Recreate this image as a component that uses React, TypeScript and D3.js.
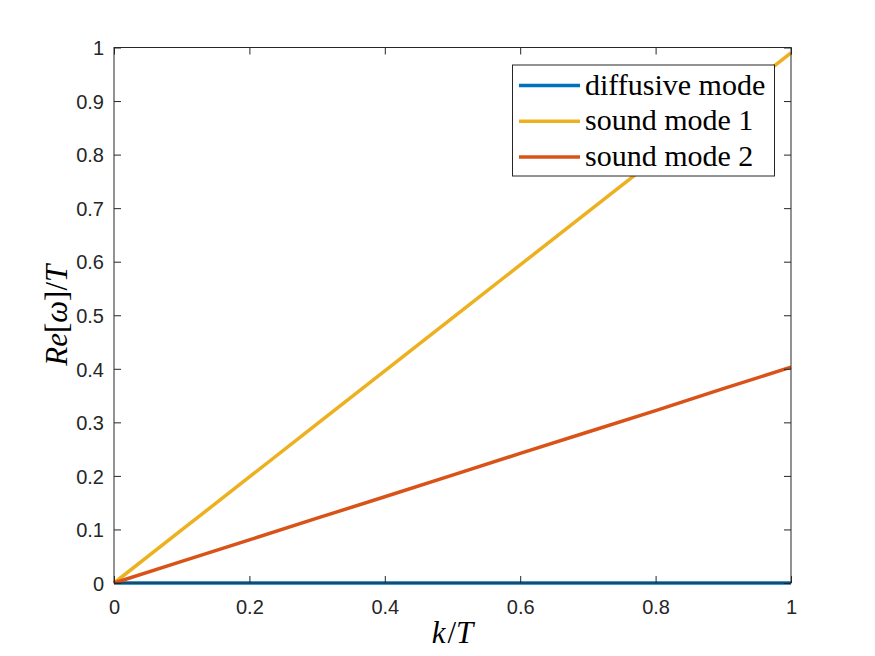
import { useEffect, useRef } from 'react'
import * as d3 from 'd3'

const kValues = [0, 0.1, 0.2, 0.3, 0.4, 0.5, 0.6, 0.7, 0.8, 0.9, 1]
const diffusiveMode = [0, 0, 0, 0, 0, 0, 0, 0, 0, 0, 0]
const soundMode1 = [0, 0.099, 0.198, 0.297, 0.396, 0.495, 0.594, 0.693, 0.792, 0.891, 0.99]
const soundMode2 = [0, 0.0403, 0.0806, 0.121, 0.161, 0.2015, 0.242, 0.282, 0.322, 0.363, 0.403]

const seriesNames = ['diffusive mode', 'sound mode 1', 'sound mode 2']
const seriesColors = ['#0072BD', '#EDB120', '#D95319']
const xTicks = [0, 0.2, 0.4, 0.6, 0.8, 1]
const yTicks = [0, 0.1, 0.2, 0.3, 0.4, 0.5, 0.6, 0.7, 0.8, 0.9, 1]

const tickFont = '"Liberation Sans", Arial, Helvetica, sans-serif'
const texFont = '"Liberation Serif", "Times New Roman", serif'

export default function App() {
  const svgRef = useRef<SVGSVGElement>(null)

  useEffect(() => {
    if (!svgRef.current) return
    const svg = d3.select(svgRef.current)
    svg.selectAll('*').remove()

    const width = 875
    const height = 656
    const margin = { top: 47.5, right: 84, bottom: 73, left: 114 }
    const innerW = width - margin.left - margin.right
    const innerH = height - margin.top - margin.bottom
    const ink = '#262626'
    const tickLen = 7

    svg.attr('width', width).attr('height', height)
    svg.append('rect').attr('width', width).attr('height', height).attr('fill', '#fff')

    const x = d3.scaleLinear().domain([0, 1]).range([0, innerW])
    const y = d3.scaleLinear().domain([0, 1]).range([innerH, 0])

    const g = svg.append('g').attr('transform', `translate(${margin.left},${margin.top})`)

    // 시리즈 라인
    const series = [diffusiveMode, soundMode1, soundMode2]
    const line = d3
      .line<number>()
      .x((_, i) => x(kValues[i]))
      .y(d => y(d))

    series.forEach((vals, i) => {
      g.append('path')
        .datum(vals)
        .attr('d', line)
        .attr('fill', 'none')
        .attr('stroke', seriesColors[i])
        .attr('stroke-width', 3.5)
    })

    // 축 박스
    g.append('rect')
      .attr('width', innerW)
      .attr('height', innerH)
      .attr('fill', 'none')
      .attr('stroke', ink)
      .attr('stroke-width', 1)

    // 아래/위 축
    const xAxis = g.append('g').attr('transform', `translate(0,${innerH})`)
      .call(d3.axisBottom(x).tickValues(xTicks).tickSize(-tickLen).tickPadding(tickLen + 10).tickFormat(d => String(+d)))
    const xTop = g.append('g').call(d3.axisTop(x).tickValues(xTicks).tickSize(-tickLen).tickFormat(() => ''))
    const yAxis = g.append('g')
      .call(d3.axisLeft(y).tickValues(yTicks).tickSize(-tickLen).tickPadding(tickLen + 3).tickFormat(d => String(+d)))
    const yRight = g.append('g').attr('transform', `translate(${innerW},0)`)
      .call(d3.axisRight(y).tickValues(yTicks).tickSize(-tickLen).tickFormat(() => ''))

    ;[xAxis, xTop, yAxis, yRight].forEach(a => {
      a.select('.domain').remove()
      a.selectAll('line').attr('stroke', ink)
      a.selectAll('text')
        .attr('fill', ink)
        .style('font-family', tickFont)
        .style('font-size', '20px')
    })
    xAxis.selectAll('text').attr('dy', '0.71em')
    yAxis.selectAll('text').attr('dy', '0.36em')

    // 범례
    const legend = g.append('g').attr('transform', `translate(${512.5 - margin.left},${65 - margin.top})`)
    legend.append('rect')
      .attr('width', 262)
      .attr('height', 111)
      .attr('fill', '#fff')
      .attr('stroke', ink)
      .attr('stroke-width', 1)
    seriesNames.forEach((name, i) => {
      const cy = 20.5 + i * 35.8
      legend.append('line')
        .attr('x1', 6.5)
        .attr('x2', 67.5)
        .attr('y1', cy)
        .attr('y2', cy)
        .attr('stroke', seriesColors[i])
        .attr('stroke-width', 3.5)
      legend.append('text')
        .attr('x', 72.5)
        .attr('y', cy + 9)
        .attr('fill', '#000')
        .style('font-family', texFont)
        .style('font-size', '30px')
        .text(name)
    })

    // 축 제목
    const xLabel = svg.append('text')
      .attr('x', margin.left + innerW / 2)
      .attr('y', 643)
      .attr('text-anchor', 'middle')
      .attr('fill', '#000')
      .style('font-family', texFont)
      .style('font-size', '31px')
    xLabel.append('tspan').style('font-style', 'italic').text('k')
    xLabel.append('tspan').attr('dx', 2).text('/')
    xLabel.append('tspan').style('font-style', 'italic').text('T')

    const yLabel = svg.append('text')
      .attr('transform', `translate(${67},${margin.top + innerH / 2}) rotate(-90)`)
      .attr('text-anchor', 'middle')
      .attr('fill', '#000')
      .style('font-family', texFont)
      .style('font-size', '31px')
    yLabel.append('tspan').style('font-style', 'italic').text('Re')
    yLabel.append('tspan').text('[')
    yLabel.append('tspan').style('font-style', 'italic').text('ω')
    yLabel.append('tspan').text(']/')
    yLabel.append('tspan').style('font-style', 'italic').text('T')
  }, [])

  return (
    <div style={{ position: 'absolute', left: 0, top: 0 }}>
      <svg ref={svgRef} style={{ display: 'block' }}></svg>
    </div>
  )
}
